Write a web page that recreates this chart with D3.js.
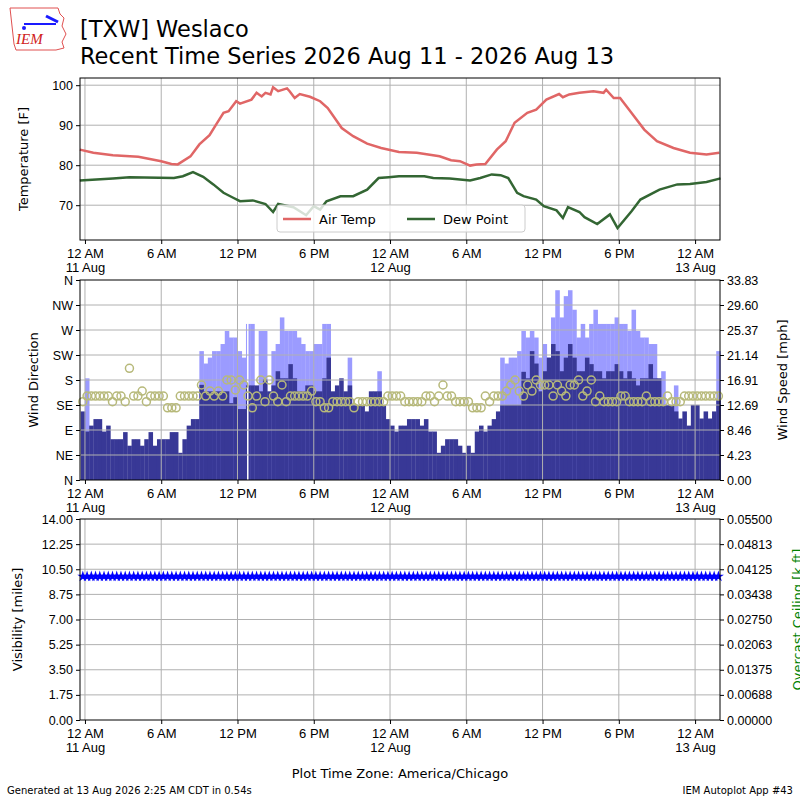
<!DOCTYPE html>
<html>
<head>
<meta charset="utf-8">
<script src="https://cdn.jsdelivr.net/npm/d3@7"></script>
<style>
body { margin: 0; background: #fff; }
svg { font-family: "DejaVu Sans", sans-serif; }
.grid line { stroke: #b0b0b0; stroke-width: 1; }
.tick text { font-size: 12.5px; fill: #000; }
</style>
</head>
<body>
<svg id="chart" width="800" height="800"></svg>
<script>
// hours since 11 Aug 00:00 CDT
var tempPts = [[-0.4,83.9],[0.66,83.1],[2.2,82.5],[4.2,82.1],[6,81],[6.8,80.3],[7.3,80.2],[8.3,82.2],[9,85.2],[9.8,87.5],
    [10.4,90.6],[10.9,93.1],[11.3,93.5],[11.9,96],[12.2,95.4],[13.1,96.4],[13.5,98.1],[13.9,97.2],[14.2,98.1],[14.6,97.7],
    [14.8,99.5],[15.2,98.5],[15.9,99.2],[16.1,98.5],[16.5,96.8],[16.9,97.8],[17.7,97.1],[18.5,96],[19.1,94.3],[20.2,89.3],
    [21.1,87.25],[22.2,85.4],[23.3,84.3],[24.7,83.3],[26.1,83.1],[27.9,82.25],[28.8,81.25],[29.5,81],[30.3,79.9],[30.8,80.2],
    [31.5,80.3],[32.4,83.9],[33.1,86],[33.8,90.6],[34.8,93.1],[35.5,93.9],[36.3,96.4],[37.3,97.8],[37.6,97],[38.1,97.7],
    [38.9,98.1],[40,98.5],[40.8,98.1],[41,98.9],[41.6,96.8],[42.1,96.8],[42.9,93.5],[44,88.9],[45,86],[46.3,84.3],
    [47.6,83.1],[48.9,82.7],[49.9,83.1]];

var dewPts = [[-0.4,76.2],[2.2,76.7],[3.5,77],[7,76.8],[7.7,77.25],[8.5,78.3],[9.3,77.1],[10.1,75.2],[10.9,73.1],[11.7,71.8],
    [12.2,71],[13.2,71.2],[14.2,70.3],[14.8,68.3],[15.2,70.3],[16.4,69.5],[17.4,67.5],[18,69.75],[18.5,68.9],[19,71],
    [20.1,72.25],[21.1,72.25],[22.2,73.9],[23.1,76.8],[23.9,77],[24.7,77.25],[26.7,77.25],[27.4,76.8],[28.7,76.7],[30.3,76.2],
    [31.1,76.8],[32,77.7],[32.7,77.5],[33.3,76.8],[34,73.1],[34.5,72.25],[35.5,71.4],[36.1,69.75],[37.1,68.7],[37.6,66.8],
    [38,69.5],[38.9,68.3],[39.3,67],[40.3,65.3],[41.3,67.7],[41.9,64.3],[43,68.5],[43.7,71.4],[45.2,73.9],[46.6,75.2],
    [47.6,75.3],[48.9,75.8],[50,76.7]];

// 20 minute obs, first at 23:40 10 Aug
var sknt = [11.6,8.2,9.2,10.3,10.3,8.2,9.2,6.9,6.9,6.9,
    8.1,5.8,6.9,6.9,5.8,6.9,8.1,5.8,6.9,6.9,
    6.9,8.1,8.1,4.6,6.9,9.2,10.3,10.3,16.1,15,
    15,15,15,15,15,13,14,12,12,16,
    16,16,15,17,15,16,18.4,17.2,17.2,19.6,
    17.2,15,15,16,16,15,15,17.2,20.7,15,
    16,17.2,15,16,12.7,12.7,12.7,11.6,15,15,
    15,12.7,10.3,9.2,8.2,9.2,9.2,10.3,10.3,10.3,
    9.2,10.3,8.2,8.2,4.6,5.8,6.9,6.9,6.9,5.8,
    4.6,5.8,4.6,8.2,9.2,8.2,9.2,10.3,11.6,12.7,
    12.7,12.7,12.7,12.7,18.3,17.2,21.8,19.7,15,18.4,
    20.7,23,21.8,18.4,20.7,23,20.7,18.4,18.4,20.7,
    19.6,18.4,18.4,17.2,18.4,18.4,19.6,18.4,17.2,18.4,
    17.2,16,17.2,17.2,19.6,17.2,17.2,12.7,12.7,12.7,
    11.6,10.4,11.6,9.2,12.7,12.7,10.4,11.6,10.4,11.6,13.5];

var gust = {1:17.2, 28:21.8, 29:19.7, 30:20.7, 31:21.8, 32:21.8, 33:23, 34:25.2, 35:24.1, 36:24.1, 37:21.8, 38:20.7,
    39:26.4, 40:26.4, 42:25.2, 43:25.2, 45:21.8, 46:23, 47:27.5, 48:25.2, 49:25.2, 50:25.2, 51:24.1, 52:23, 53:21.8,
    54:21.8, 55:23, 56:23, 57:26.4, 58:26.4, 63:20.7, 70:18.4,
    99:20.7, 100:19.7, 101:20.7, 102:20.7, 103:21.8, 104:25.2, 105:24.1, 106:25.2, 107:24.1, 108:20.7, 109:23, 110:20.7,
    111:27.5, 112:32.1, 113:27.5, 114:31.1, 115:32.1, 116:28.8, 117:24.1, 118:26.4, 119:24.1, 120:26.4, 121:28.8,
    122:26.4, 123:26.4, 124:26.4, 125:26.4, 126:27.5, 127:26.4, 128:26.4, 129:25.2, 130:28.8, 131:25.2, 132:24.1,
    133:24.1, 134:23, 135:23, 137:18.4, 140:16, 150:21.8};

var drct = [141,151,151,151,151,151,151,141,151,151,
    141,201,151,151,160,141,151,151,151,151,
    130,130,130,151,151,151,151,151,171,151,
    160,151,160,151,180,180,162,180,171,151,
    130,151,180,141,180,151,141,171,141,151,
    151,151,151,151,160,141,141,130,130,141,
    141,141,141,141,130,141,141,141,141,141,
    141,141,151,151,151,151,141,141,141,141,
    141,151,151,141,151,171,151,151,141,141,
    141,141,130,130,130,151,141,151,151,151,
    160,171,180,160,151,171,160,180,171,171,
    171,151,171,160,151,171,171,180,151,160,
    180,141,151,141,141,141,141,151,151,141,
    141,141,141,151,141,141,141,141,151,141,
    141,141,151,151,151,151,151,151,151,151,151];

var obs = sknt.map(function(s, i){
    return {t: -1/3 + i/3, sknt: s, gust: gust[i] === undefined ? null : gust[i], drct: drct[i], vsby: 10};
});

var svg = d3.select('#chart');
var L = 80, R = 720;
var x = d3.scaleLinear().domain([-0.39, 49.96]).range([L, R]);
var hourTicks = d3.range(0, 49, 6);

function timeAxis(g, yb){
    var ax = d3.axisBottom(x).tickValues(hourTicks).tickSize(4).tickFormat('');
    var a = g.append('g').attr('transform', 'translate(0,' + yb + ')').call(ax);
    a.select('.domain').remove();
    a.selectAll('.tick').each(function(h){
        var t = d3.select(this).append('text').attr('y', 18).attr('text-anchor', 'middle').style('font-size', '13px');
        var hr = h % 24;
        var lab = hr === 0 ? '12 AM' : hr === 12 ? '12 PM' : hr < 12 ? hr + ' AM' : (hr - 12) + ' PM';
        t.append('tspan').attr('x', 0).text(lab);
        if (hr === 0) t.append('tspan').attr('x', 0).attr('dy', 14).text((11 + h / 24) + ' Aug');
    });
}

function vgrid(g, top, bot){
    g.append('g').attr('class', 'grid').selectAll('line').data(hourTicks).enter().append('line')
        .attr('x1', x).attr('x2', x).attr('y1', top).attr('y2', bot);
}
function border(top, bot){
    svg.append('rect').attr('x', L).attr('y', top).attr('width', R - L).attr('height', bot - top)
        .attr('fill', 'none').attr('stroke', '#000').attr('stroke-width', 1);
}
function hgrid(g, y, vals){
    g.append('g').attr('class', 'grid').selectAll('line').data(vals).enter().append('line')
        .attr('x1', L).attr('x2', R).attr('y1', y).attr('y2', y);
}

// ---- panel 1 temps
var t1 = 78, b1 = 240;
var yT = d3.scaleLinear().domain([61.3, 101.8]).range([b1, t1]);
var g1 = svg.append('g');
vgrid(g1, t1, b1);
hgrid(g1, yT, [70, 80, 90, 100]);
var line = d3.line().x(function(d){ return x(d[0]); }).y(function(d){ return yT(d[1]); });
g1.append('path').datum(tempPts).attr('d', line).attr('fill', 'none').attr('stroke', '#e06666').attr('stroke-width', 2.5);
g1.append('path').datum(dewPts).attr('d', line).attr('fill', 'none').attr('stroke', '#336633').attr('stroke-width', 2.5);
g1.append('g').attr('transform', 'translate(' + L + ',0)').call(d3.axisLeft(yT).tickValues([70, 80, 90, 100]).tickSize(4))
    .select('.domain').remove();
border(t1, b1);
timeAxis(g1, b1);
svg.append('text').attr('transform', 'translate(28,' + ((t1 + b1) / 2) + ') rotate(-90)').attr('text-anchor', 'middle')
    .style('font-size', '13px').text('Temperature [F]');
var lg = svg.append('g').attr('transform', 'translate(277,205)');
lg.append('rect').attr('width', 248).attr('height', 27).attr('rx', 3).attr('fill', 'rgba(255,255,255,0.8)').attr('stroke', '#ccc');
lg.append('line').attr('x1', 6).attr('x2', 34).attr('y1', 14).attr('y2', 14).attr('stroke', '#e06666').attr('stroke-width', 2.5);
lg.append('text').attr('x', 42).attr('y', 19).style('font-size', '13px').text('Air Temp');
lg.append('line').attr('x1', 130).attr('x2', 158).attr('y1', 14).attr('y2', 14).attr('stroke', '#336633').attr('stroke-width', 2.5);
lg.append('text').attr('x', 166).attr('y', 19).style('font-size', '13px').text('Dew Point');

// ---- panel 2 wind
var t2 = 280, b2 = 480;
var yS = d3.scaleLinear().domain([0, 33.83]).range([b2, t2]);
var yD = d3.scaleLinear().domain([0, 360]).range([b2, t2]);
var g2 = svg.append('g');
var bw = x(1/3) - x(0);
g2.selectAll('.gust').data(obs.filter(function(d){ return d.gust !== null; })).enter().append('rect')
    .attr('x', function(d){ return x(d.t); }).attr('width', bw + 0.3)
    .attr('y', function(d){ return yS(d.gust); }).attr('height', function(d){ return b2 - yS(d.gust); })
    .attr('fill', '#9b9bff');
g2.selectAll('.sknt').data(obs).enter().append('rect')
    .attr('x', function(d){ return x(d.t); }).attr('width', bw + 0.3)
    .attr('y', function(d){ return yS(d.sknt); }).attr('height', function(d){ return b2 - yS(d.sknt); })
    .attr('fill', '#383896');
// missing ob just before 1 PM
g2.append('rect').attr('x', x(12.75)).attr('width', 1.5).attr('y', t2).attr('height', b2 - t2).attr('fill', '#fff');
vgrid(g2, t2, b2);
hgrid(g2, yD, d3.range(45, 360, 45));
g2.selectAll('.dir').data(obs).enter().append('circle')
    .attr('cx', function(d){ return x(d.t + 1/6); }).attr('cy', function(d){ return yD(d.drct); }).attr('r', 4)
    .attr('fill', 'none').attr('stroke', '#b7b97a').attr('stroke-width', 1.5);
var dirs = ['N', 'NE', 'E', 'SE', 'S', 'SW', 'W', 'NW', 'N'];
g2.append('g').attr('transform', 'translate(' + L + ',0)')
    .call(d3.axisLeft(yD).tickValues(d3.range(0, 361, 45)).tickSize(4).tickFormat(function(d, i){ return dirs[i]; }))
    .select('.domain').remove();
g2.append('g').attr('transform', 'translate(' + R + ',0)')
    .call(d3.axisRight(yS).tickValues(d3.range(9).map(function(i){ return i * 33.83 / 8; })).tickSize(4).tickFormat(d3.format('.2f')))
    .select('.domain').remove();
border(t2, b2);
timeAxis(g2, b2);
svg.append('text').attr('transform', 'translate(38,' + ((t2 + b2) / 2) + ') rotate(-90)').attr('text-anchor', 'middle')
    .style('font-size', '13px').text('Wind Direction');
svg.append('text').attr('transform', 'translate(787,' + ((t2 + b2) / 2) + ') rotate(-90)').attr('text-anchor', 'middle')
    .style('font-size', '13px').text('Wind Speed [mph]');

// ---- panel 3 visibility
var t3 = 519, b3 = 720;
var yV = d3.scaleLinear().domain([0, 14]).range([b3, t3]);
var yC = d3.scaleLinear().domain([0, 0.055]).range([b3, t3]);
var g3 = svg.append('g');
vgrid(g3, t3, b3);
hgrid(g3, yV, d3.range(1.75, 14, 1.75));
g3.selectAll('.vis').data(obs).enter().append('path')
    .attr('transform', function(d){ return 'translate(' + x(d.t + 1/6) + ',' + yV(d.vsby) + ')'; })
    .attr('d', d3.symbol().type(d3.symbolStar).size(38)).attr('fill', '#0000ff');
g3.append('g').attr('transform', 'translate(' + L + ',0)')
    .call(d3.axisLeft(yV).tickValues(d3.range(0, 14.01, 1.75)).tickSize(4).tickFormat(d3.format('.2f')))
    .select('.domain').remove();
g3.append('g').attr('transform', 'translate(' + R + ',0)')
    .call(d3.axisRight(yC).tickValues(d3.range(9).map(function(i){ return i * 0.055 / 8; })).tickSize(4).tickFormat(d3.format('.5f')))
    .select('.domain').remove();
border(t3, b3);
timeAxis(g3, b3);
svg.append('text').attr('transform', 'translate(22,' + ((t3 + b3) / 2) + ') rotate(-90)').attr('text-anchor', 'middle')
    .style('font-size', '13px').text('Visibility [miles]');
svg.append('text').attr('transform', 'translate(802,' + ((t3 + b3) / 2) + ') rotate(-90)').attr('text-anchor', 'middle')
    .style('font-size', '13px').attr('fill', 'green').text('Overcast Ceiling [k ft]');

// ---- titles
svg.append('text').attr('x', 80).attr('y', 37).style('font-size', '22.5px').text('[TXW] Weslaco');
svg.append('text').attr('x', 80).attr('y', 64).style('font-size', '22.5px').text('Recent Time Series 2026 Aug 11 - 2026 Aug 13');
svg.append('text').attr('x', 400).attr('y', 778).attr('text-anchor', 'middle').style('font-size', '13px').text('Plot Time Zone: America/Chicago');
svg.append('text').attr('x', 7).attr('y', 794).style('font-size', '10px').text('Generated at 13 Aug 2026 2:25 AM CDT in 0.54s');
svg.append('text').attr('x', 793).attr('y', 794).attr('text-anchor', 'end').style('font-size', '10px').text('IEM Autoplot App #43');

// logo
var logo = svg.append('g').attr('transform', 'translate(8,6)');
logo.append('path').attr('d', 'M2,2 L50,2 L52,8 L56,12 L54,20 L58,28 L54,36 L56,42 L48,44 L8,44 L6,38 L4,20 Z')
    .attr('fill', 'none').attr('stroke', '#e05050').attr('stroke-width', 1);
logo.append('line').attr('x1', 16).attr('x2', 48).attr('y1', 18).attr('y2', 18).attr('stroke', '#1a1aff').attr('stroke-width', 2);
logo.append('line').attr('x1', 38).attr('x2', 50).attr('y1', 10).attr('y2', 16).attr('stroke', '#1a1aff').attr('stroke-width', 3);
logo.append('circle').attr('cx', 16).attr('cy', 22).attr('r', 2).attr('fill', '#1a1aff');
logo.append('text').attr('x', 8).attr('y', 38).attr('fill', '#d02020').style('font-family', 'Liberation Serif, serif')
    .style('font-style', 'italic').style('font-size', '15px').text('IEM');
</script>
</body>
</html>
